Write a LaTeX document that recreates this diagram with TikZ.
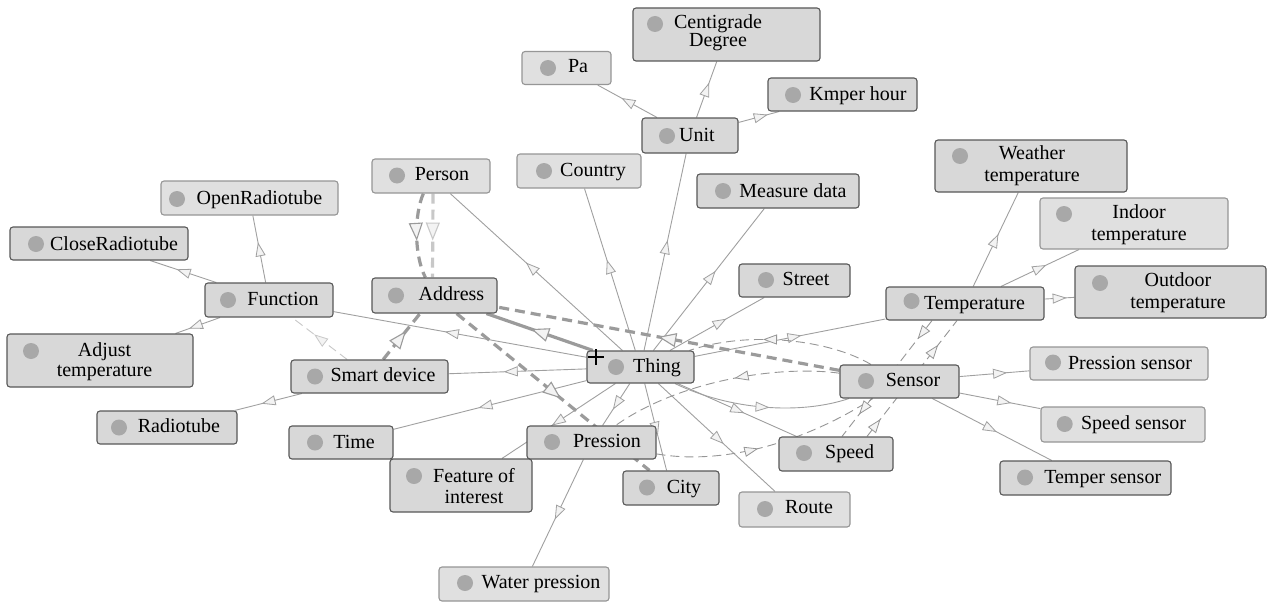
\documentclass[tikz,border=0pt]{standalone}
\usepackage{fontspec}
\setmainfont{Liberation Serif}
\usetikzlibrary{arrows.meta,decorations.markings}

\definecolor{boxfill}{RGB}{216,216,216}
\definecolor{boxfilllight}{RGB}{224,224,224}
\definecolor{boxline}{RGB}{88,88,88}
\definecolor{boxlinelight}{RGB}{150,150,150}
\definecolor{dotc}{RGB}{168,168,168}
\definecolor{edgec}{RGB}{160,160,160}
\definecolor{relc}{RGB}{150,150,150}
\definecolor{relfaintc}{RGB}{200,200,200}
\definecolor{heavyc}{RGB}{155,155,155}
\definecolor{tipc}{RGB}{243,243,243}

\pgfdeclarelayer{paper}
\pgfdeclarelayer{edges}
\pgfsetlayers{paper,edges,main}

\tikzset{
  cls/.style={draw=boxline, fill=boxfill, rounded corners=3pt, line width=1.1pt, inner sep=0pt},
  clslight/.style={cls, draw=boxlinelight, fill=boxfilllight},
  lbl/.style={font=\fontsize{20pt}{22pt}\selectfont, inner sep=0pt, text height=14pt, text depth=4pt},
  lbltwo/.style={font=\fontsize{20pt}{#1}\selectfont, inner sep=0pt, align=center},
  lbltwo/.default=22pt,
  classdot/.style={fill=dotc},
  midtip/.style={postaction={decorate, decoration={markings, mark=at position #1 with {\arrow{Triangle[length=14pt,width=10pt,fill=tipc,line width=0.8pt]}}}}},
  midtip/.default=0.56,
  bigtip/.style={postaction={decorate, decoration={markings, mark=at position #1 with {\arrow{Triangle[length=18pt,width=14pt,fill=tipc,line width=1.1pt]}}}}},
  bigtip/.default=0.55,
  isa/.style={draw=edgec, line width=0.9pt},
  rel/.style={draw=relc, line width=0.9pt, dash pattern=on 9pt off 5pt},
  relfaint/.style={rel, draw=relfaintc},
  heavy/.style={draw=heavyc, line width=3.2pt},
  heavydash/.style={heavy, dash pattern=on 10pt off 6pt},
}

\begin{document}
\begin{tikzpicture}[x=1pt, y=-1pt]
\begin{pgfonlayer}{paper}
  \fill[white] (0,0) rectangle (1268,602);
\end{pgfonlayer}
\useasboundingbox (0,0) rectangle (1268,602);

% ---------- class boxes ----------
\node[cls, minimum width=187pt, minimum height=53pt] (cent) at (726.5,34.5) {};
\fill[classdot] (655,24) circle (8pt);
\node[lbltwo=18pt] (cent-t) at (718,33) {Centigrade\\Degree};

\node[clslight, minimum width=89pt, minimum height=33pt] (pa) at (566.5,68) {};
\fill[classdot] (548,68) circle (8pt);
\node[lbl] (pa-t) at (578,68) {Pa};

\node[cls, minimum width=149pt, minimum height=33pt] (kmh) at (842.5,94.5) {};
\fill[classdot] (793,95) circle (8pt);
\node[lbl] (kmh-t) at (858,95) {Kmper hour};

\node[cls, minimum width=96pt, minimum height=35pt] (unit) at (690,135.5) {};
\fill[classdot] (667,136) circle (8pt);
\node[lbl] (unit-t) at (697,136.5) {Unit};

\node[clslight, minimum width=124pt, minimum height=34pt] (country) at (579,171) {};
\fill[classdot] (544,171) circle (8pt);
\node[lbl] (country-t) at (593,171) {Country};

\node[clslight, minimum width=118pt, minimum height=34pt] (person) at (431,176) {};
\fill[classdot] (397,175.5) circle (8pt);
\node[lbl] (person-t) at (442,175.5) {Person};

\node[cls, minimum width=162pt, minimum height=34pt] (measure) at (778,191) {};
\fill[classdot] (723,191) circle (8pt);
\node[lbl] (measure-t) at (793,192) {Measure data};

\node[clslight, minimum width=177pt, minimum height=34pt] (openr) at (249.5,198) {};
\fill[classdot] (177,199) circle (8pt);
\node[lbl] (openr-t) at (259.5,199.5) {OpenRadiotube};

\node[cls, minimum width=192pt, minimum height=52pt] (weather) at (1031,166) {};
\fill[classdot] (960,156) circle (8pt);
\node[lbltwo] (weather-t) at (1032,166) {Weather\\temperature};

\node[clslight, minimum width=188pt, minimum height=51pt] (indoor) at (1134,223.5) {};
\fill[classdot] (1064,214) circle (8pt);
\node[lbltwo] (indoor-t) at (1139,225) {Indoor\\temperature};

\node[cls, minimum width=178pt, minimum height=33pt] (closer) at (99,243.5) {};
\fill[classdot] (36,244) circle (8pt);
\node[lbl] (closer-t) at (114,245) {CloseRadiotube};

\node[cls, minimum width=111pt, minimum height=33pt] (street) at (794.5,280.5) {};
\fill[classdot] (766,280) circle (8pt);
\node[lbl] (street-t) at (806,280.5) {Street};

\node[cls, minimum width=191pt, minimum height=52pt] (outdoor) at (1170.5,292) {};
\fill[classdot] (1100,283) circle (8pt);
\node[lbltwo] (outdoor-t) at (1178,292.5) {Outdoor\\temperature};

\node[cls, minimum width=158pt, minimum height=33pt] (temp) at (965,303.5) {};
\fill[classdot] (911.5,301) circle (8pt);
\node[lbl] (temp-t) at (974.5,304) {Temperature};

\node[cls, minimum width=128pt, minimum height=34pt] (func) at (269,300) {};
\fill[classdot] (228,300) circle (8pt);
\node[lbl] (func-t) at (283,300) {Function};

\node[cls, minimum width=125pt, minimum height=35pt] (addr) at (434.5,295.5) {};
\fill[classdot] (396,295.5) circle (8pt);
\node[lbl] (addr-t) at (451.5,295.5) {Address};

\node[cls, minimum width=186pt, minimum height=53pt] (adjust) at (100,360.5) {};
\fill[classdot] (31,351) circle (8pt);
\node[lbltwo=20pt] (adjust-t) at (104.5,361.5) {Adjust\\temperature};

\node[cls, minimum width=157pt, minimum height=33pt] (smart) at (369.5,376.5) {};
\fill[classdot] (315,376.5) circle (8pt);
\node[lbl] (smart-t) at (383,376.7) {Smart device};

\node[cls, minimum width=107pt, minimum height=32pt] (thing) at (640.5,367) {};
\fill[classdot] (616,367) circle (8pt);
\node[lbl] (thing-t) at (657,367) {Thing};

\node[cls, minimum width=119pt, minimum height=33pt] (sensor) at (899.5,381.5) {};
\fill[classdot] (866,381) circle (8pt);
\node[lbl] (sensor-t) at (913,381) {Sensor};

\node[clslight, minimum width=178pt, minimum height=33pt] (psensor) at (1119,363.5) {};
\fill[classdot] (1053,362.5) circle (8pt);
\node[lbl] (psensor-t) at (1130,364) {Pression sensor};

\node[cls, minimum width=140pt, minimum height=33pt] (radio) at (167,427.5) {};
\fill[classdot] (119,427.5) circle (8pt);
\node[lbl] (radio-t) at (179,427.5) {Radiotube};

\node[clslight, minimum width=164pt, minimum height=35pt] (ssensor) at (1123,424.5) {};
\fill[classdot] (1064.7,424) circle (8pt);
\node[lbl] (ssensor-t) at (1133.6,424) {Speed sensor};

\node[cls, minimum width=104pt, minimum height=33pt] (time) at (341,442.5) {};
\fill[classdot] (315,442.5) circle (8pt);
\node[lbl] (time-t) at (354,443) {Time};

\node[cls, minimum width=129pt, minimum height=33pt] (pres) at (591.5,442.5) {};
\fill[classdot] (552,442) circle (8pt);
\node[lbl] (pres-t) at (607,442) {Pression};

\node[cls, minimum width=114pt, minimum height=34pt] (speed) at (836,454) {};
\fill[classdot] (804,453) circle (8pt);
\node[lbl] (speed-t) at (849.6,453) {Speed};

\node[cls, minimum width=142pt, minimum height=53pt] (feat) at (461,485.5) {};
\fill[classdot] (414,476) circle (8pt);
\node[lbltwo=21pt] (feat-t) at (474,486.5) {Feature of\\interest};

\node[cls, minimum width=171pt, minimum height=34pt] (tsensor) at (1085.5,478) {};
\fill[classdot] (1025,477.5) circle (8pt);
\node[lbl] (tsensor-t) at (1102.7,478) {Temper sensor};

\node[cls, minimum width=96pt, minimum height=34pt] (city) at (671,488) {};
\fill[classdot] (647,487.5) circle (8pt);
\node[lbl] (city-t) at (684,488) {City};

\node[clslight, minimum width=111pt, minimum height=35pt] (route) at (794.5,509.5) {};
\fill[classdot] (765,509) circle (8pt);
\node[lbl] (route-t) at (809,508.5) {Route};

\node[clslight, minimum width=170pt, minimum height=34pt] (water) at (524,584) {};
\fill[classdot] (465,583) circle (8pt);
\node[lbl] (water-t) at (541,583.5) {Water pression};

% pointer cursor over Thing
\draw[line width=1.4pt, black] (588,357) -- (604,357) (596,349) -- (596,365);

% ---------- connectors ----------
\begin{pgfonlayer}{edges}
  % subclass links of Thing
  \draw[isa, midtip] (thing) -- (country);
  \draw[isa, midtip] (thing) -- (unit);
  \draw[isa, midtip] (thing) -- (measure);
  \draw[isa, midtip] (thing) -- (person);
  \draw[isa, midtip=0.6] (thing) -- (street);
  \draw[isa, midtip] (thing) -- (temp);
  \draw[isa, midtip] (thing) -- (route);
  \draw[isa, midtip=0.6] (thing) -- (city);
  \draw[isa, midtip=0.62] (thing) -- (pres);
  \draw[isa, midtip] (thing) -- (feat);
  \draw[isa, midtip] (thing) -- (time);
  \draw[isa, midtip=0.6] (thing) -- (smart);
  \draw[isa, midtip] (thing) -- (func);
  \draw[isa, midtip] (thing) -- (speed);
  \draw[isa, midtip=0.55] (thing) .. controls (730,410) and (800,415) .. (sensor);
  \draw[heavy, bigtip=0.58] (thing) -- (addr);

  % Unit
  \draw[isa, midtip=0.6] (unit) -- (pa);
  \draw[isa, midtip=0.62] (unit) -- (cent);
  \draw[isa, midtip=0.72] (unit) -- (kmh);

  % Function and Smart device
  \draw[isa, midtip=0.6] (func) -- (openr);
  \draw[isa, midtip=0.6] (func) -- (closer);
  \draw[isa, midtip=0.7] (func) -- (adjust);
  \draw[isa, midtip=0.6] (smart) -- (radio);

  % Temperature
  \draw[isa, midtip] (temp) -- (weather);
  \draw[isa, midtip=0.58] (temp) -- (indoor);
  \draw[isa, midtip=0.74] (temp) -- (outdoor);

  % Sensor
  \draw[isa, midtip=0.68] (sensor) -- (psensor);
  \draw[isa, midtip=0.64] (sensor) -- (ssensor);
  \draw[isa, midtip=0.54] (sensor) -- (tsensor);

  % Pression
  \draw[isa, midtip] (pres) -- (water);

  % object properties
  \draw[relfaint, midtip=0.6] (smart) -- (func);
  \draw[rel, midtip=0.6] (sensor) .. controls (830,340) and (750,330) .. (thing);
  \draw[rel, midtip=0.45] (sensor) .. controls (780,365) and (680,380) .. (pres);
  \draw[rel, midtip=0.45] (pres) .. controls (720,465) and (800,445) .. (sensor);
  \draw[rel, midtip=0.16, midtip=0.81] ([xshift=-33pt]temp.south) -- ([xshift=6pt]speed.north);
  \draw[rel, midtip=0.15, midtip=0.79] ([xshift=31pt]speed.north) -- ([xshift=-8pt]temp.south);

  % heavy dashed links around Address
  \draw[heavydash, bigtip=0.56] (person) .. controls (414,215) and (414,255) .. (addr);
  \draw[heavydash, draw=relfaintc, bigtip=0.56] ([xshift=2pt]person.south) -- ([xshift=-2pt]addr.north);
  \draw[heavydash, bigtip=0.62] (smart) -- (addr);
  \draw[heavydash, bigtip=0.54] (addr) -- (city);
  \draw[heavydash, bigtip=0.53] (sensor) -- (addr);
\end{pgfonlayer}
\end{tikzpicture}
\end{document}
